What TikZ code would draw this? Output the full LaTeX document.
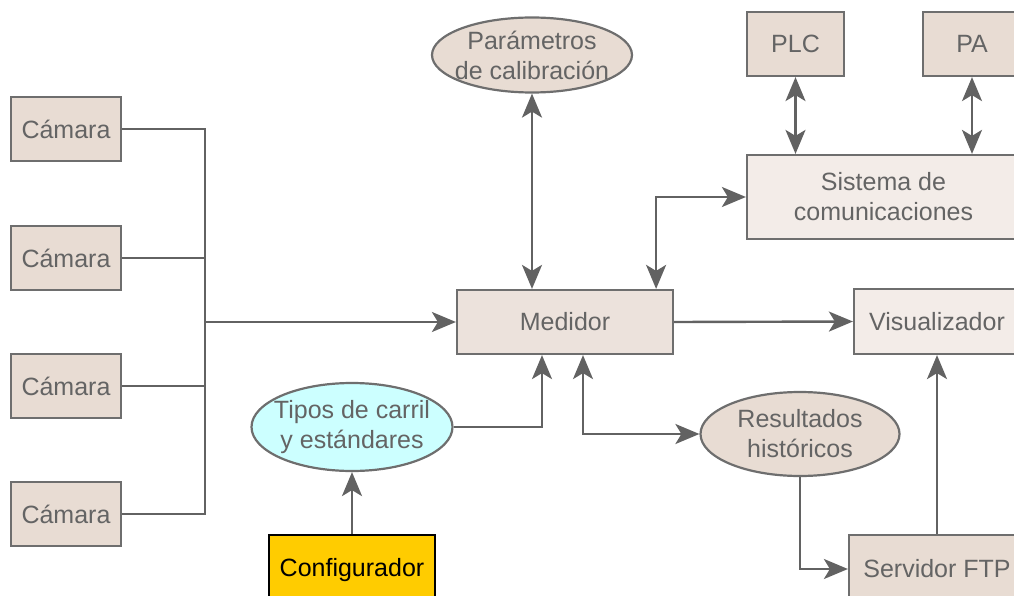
\documentclass[tikz,border=0pt]{standalone}
\usepackage{fontspec}
\setmainfont{Liberation Sans}
\usetikzlibrary{shapes.geometric,arrows.meta}
\definecolor{borde}{HTML}{6E6E6E}
\definecolor{texto}{HTML}{646464}
\definecolor{flecha}{HTML}{626262}
\definecolor{beige}{HTML}{E8DCD3}
\definecolor{beigemed}{HTML}{ECE2DC}
\definecolor{beigeclaro}{HTML}{F3ECE8}
\definecolor{celeste}{HTML}{CCFFFF}
\definecolor{amarillo}{HTML}{FFCC00}
\tikzset{
  bloque/.style={draw=borde, line width=2.2pt, fill=beige, text=texto,
    rectangle, inner sep=0pt, align=center},
  elipse/.style={draw=borde, line width=2.2pt, fill=beige, text=texto,
    ellipse, inner xsep=-45pt, inner ysep=-15pt, align=center},
  conector/.style={draw=flecha, line width=2.4pt},
  punta/.style={-{Stealth[length=24pt,width=20pt,inset=6pt]}},
  dospuntas/.style={{Stealth[length=24pt,width=20pt,inset=6pt]}-{Stealth[length=24pt,width=20pt,inset=6pt]}}
}
\begin{document}
\begin{tikzpicture}[x=1pt, y=-1pt, font=\fontsize{25}{30}\selectfont]
  \useasboundingbox (0,0) rectangle (1014,596);
  \clip (0,0) rectangle (1014,596);
  % camaras
  \node[bloque, minimum width=110pt, minimum height=64pt] (cam1) at (66,129) {Cámara};
  \node[bloque, minimum width=110pt, minimum height=64pt] (cam2) at (66,258) {Cámara};
  \node[bloque, minimum width=110pt, minimum height=64pt] (cam3) at (66,386) {Cámara};
  \node[bloque, minimum width=110pt, minimum height=64pt] (cam4) at (66,514) {Cámara};
  \coordinate (bus) at (205,322);
  % bloques centrales
  \node[bloque, fill=beigemed, minimum width=216pt, minimum height=64pt] (med) at (565,322) {Medidor};
  \node[elipse, minimum width=200pt, minimum height=75pt] (par) at (532,55) {Parámetros\\de calibración};
  \node[elipse, fill=celeste, minimum width=201pt, minimum height=88pt] (tip) at (352,427) {Tipos de carril\\y estándares};
  \node[bloque, fill=amarillo, draw=black, line width=1.6pt, text=black, minimum width=166pt, minimum height=70pt] (cfg) at (352,570) {Configurador};
  \node[elipse, minimum width=199pt, minimum height=84pt] (res) at (800,434) {Resultados\\históricos};
  % bloques derechos
  \node[bloque, minimum width=97pt, minimum height=64pt] (plc) at (795.5,44) {PLC};
  \node[bloque, minimum width=98pt, minimum height=64pt] (pa) at (972,44) {PA};
  \node[bloque, fill=beigeclaro, minimum width=273pt, minimum height=84pt] (sis) at (883.5,197) {Sistema de\\comunicaciones};
  \node[bloque, fill=beigeclaro, minimum width=166pt, minimum height=65pt] (vis) at (937,321.5) {Visualizador};
  \node[bloque, minimum width=176pt, minimum height=68pt] (srv) at (937,569) {Servidor FTP};
  % conexiones
  \draw[conector] (cam1.east) -| (bus);
  \draw[conector] (cam2.east) -| (bus);
  \draw[conector] (cam3.east) -| (bus);
  \draw[conector] (cam4.east) -| (bus);
  \draw[conector, punta] (bus) -- (med.west);
  \draw[conector, dospuntas] (par.south) -- (par.south |- med.north);
  \draw[conector, dospuntas] ([xshift=-18pt]med.north east) |- (sis.west);
  \draw[conector, dospuntas] (plc.south) -- (plc.south |- sis.north);
  \draw[conector, dospuntas] (pa.south) -- (pa.south |- sis.north);
  \draw[conector, punta] (med.east) -- (vis.west);
  \draw[conector, punta] (tip.east) -| ([xshift=-23pt]med.south);
  \draw[conector, dospuntas] (res.west) -| ([xshift=18pt]med.south);
  \draw[conector, punta] (cfg.north) -- (tip.south);
  \draw[conector, punta] (res.south) |- (srv.west);
  \draw[conector, punta] (srv.north) -- (vis.south);
\end{tikzpicture}
\end{document}
